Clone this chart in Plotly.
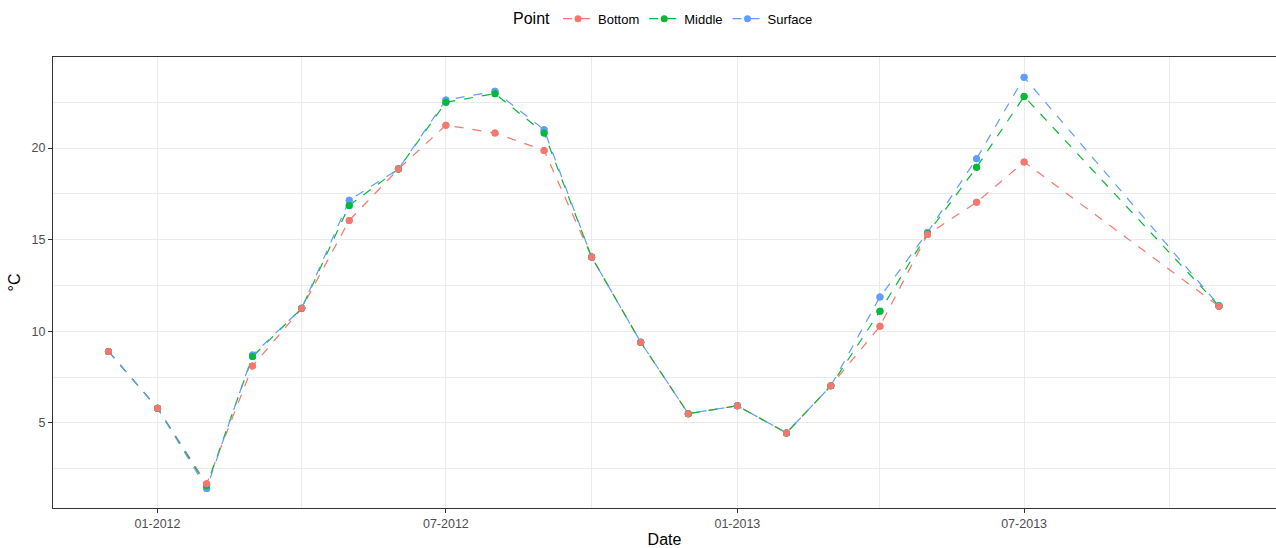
import plotly.graph_objects as go

# Monthly temperature readings at three depths
dates = [
    "2011-12-01", "2012-01-01", "2012-02-01", "2012-03-01", "2012-04-01",
    "2012-05-01", "2012-06-01", "2012-07-01", "2012-08-01", "2012-09-01",
    "2012-10-01", "2012-11-01", "2012-12-01", "2013-01-01", "2013-02-01",
    "2013-03-01", "2013-04-01", "2013-05-01", "2013-06-01", "2013-07-01",
    "2013-11-01",
]
bottom = [8.9, 5.8, 1.67, 8.1, 11.25, 16.05, 18.85, 21.25, 20.82, 19.87,
          14.05, 9.4, 5.5, 5.93, 4.45, 7.02, 10.27, 15.28, 17.04, 19.24, 11.36]
middle = [8.9, 5.8, 1.56, 8.62, 11.25, 16.87, 18.85, 22.5, 22.97, 20.82,
          14.05, 9.4, 5.5, 5.93, 4.45, 7.02, 11.09, 15.33, 18.95, 22.82, 11.38]
surface = [8.9, 5.8, 1.42, 8.7, 11.25, 17.15, 18.85, 22.62, 23.1, 21.0,
           14.05, 9.4, 5.5, 5.93, 4.45, 7.02, 11.87, 15.39, 19.42, 23.86, 11.4]

series = [
    ("Bottom", bottom, "#F8766D"),
    ("Middle", middle, "#00BA38"),
    ("Surface", surface, "#619CFF"),
]

fig = go.Figure()

# dashed lines (with legend entries)
for name, vals, col in series:
    fig.add_trace(go.Scatter(
        x=dates, y=vals, name=name, mode="lines+markers", legendgroup=name,
        line=dict(color=col, width=1.2, dash="dash"),
        marker=dict(color=col, size=7),
    ))

# points drawn on top, bottom series last like ggplot
for name, vals, col in reversed(series):
    fig.add_trace(go.Scatter(
        x=dates, y=vals, name=name, mode="markers", legendgroup=name,
        showlegend=False, marker=dict(color=col, size=7),
    ))

axis_font = dict(family="Liberation Sans, Arial, sans-serif", size=12.5, color="#4D4D4D")
title_font = dict(family="Liberation Sans, Arial, sans-serif", size=16, color="black")

fig.update_layout(
    width=1276, height=548,
    paper_bgcolor="white", plot_bgcolor="white",
    margin=dict(l=53, r=0, t=57, b=40, autoexpand=False),
    font=dict(family="Liberation Sans, Arial, sans-serif"),
    legend=dict(
        orientation="h", x=0.5, xanchor="center", y=0.965, yanchor="middle",
        yref="container", title=dict(text="Point", font=dict(size=16, color="black")),
        font=dict(size=13, color="black"), itemwidth=30, tracegroupgap=0,
    ),
    xaxis=dict(
        type="date", range=["2011-10-27", "2013-12-07"],
        tick0="2012-01-01", dtick="M6", tickformat="%m-%Y",
        ticks="outside", ticklen=4, tickcolor="#333333", tickwidth=1,
        tickfont=axis_font, title=dict(text="Date", font=title_font, standoff=6),
        automargin=False,
        showgrid=True, gridcolor="#EBEBEB", gridwidth=1.2,
        minor=dict(dtick="M3", tick0="2012-01-01", showgrid=True, gridcolor="#EBEBEB", gridwidth=0.6),
        showline=True, linecolor="#333333", linewidth=1, mirror=True, zeroline=False,
    ),
    yaxis=dict(
        range=[0.35, 24.97], tick0=0, dtick=5,
        ticks="outside", ticklen=4, tickcolor="#333333", tickwidth=1,
        tickfont=axis_font, title=dict(text="°C", font=title_font, standoff=6),
        automargin=False,
        showgrid=True, gridcolor="#EBEBEB", gridwidth=1.2,
        minor=dict(dtick=2.5, tick0=0, showgrid=True, gridcolor="#EBEBEB", gridwidth=0.6),
        showline=True, linecolor="#333333", linewidth=1, mirror=True, zeroline=False,
    ),
)

# the page body has a default 8px margin; drop it so the figure sits at the corner
fig.write_html(
    "out.html",
    config={"displayModeBar": False},
    post_script="document.body.style.margin='0';document.body.style.overflow='hidden';",
)
